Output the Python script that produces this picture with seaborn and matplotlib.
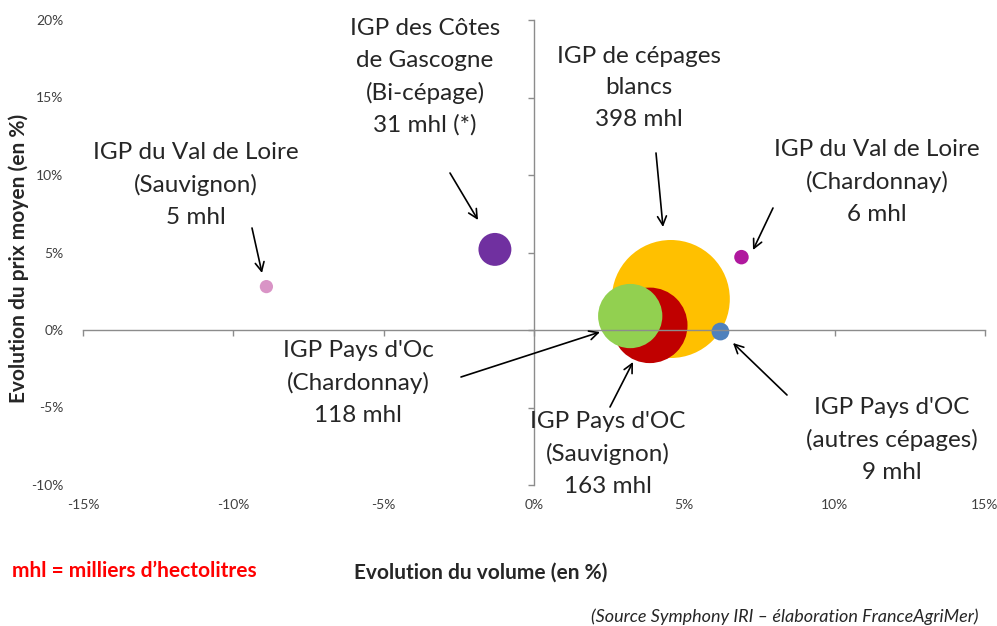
import pandas as pd
import seaborn as sns
import matplotlib.pyplot as plt
from matplotlib.ticker import FuncFormatter

# data (percent)
noms = ["Val de Loire Sauvignon", "Cotes de Gascogne", "Cepages blancs",
        "Pays d'Oc Sauvignon", "Pays d'Oc Chardonnay", "Pays d'Oc autres", "Val de Loire Chardonnay"]
volume = [-8.9, -1.3, 4.55, 3.85, 3.2, 6.2, 6.9]
prix = [2.8, 5.2, 2.0, 0.3, 0.9, -0.1, 4.7]
mhl = [5, 31, 398, 163, 118, 9, 6]
couleurs = ["#D994C6", "#7030A0", "#FFC000", "#C00000", "#92D050", "#4F81BD", "#B0189E"]

labels = ["IGP du Val de Loire\n(Sauvignon)\n5 mhl",
          "IGP des Côtes\nde Gascogne\n(Bi-cépage)\n31 mhl (*)",
          "IGP de cépages\nblancs\n398 mhl",
          "IGP Pays d'OC\n(Sauvignon)\n163 mhl",
          "IGP Pays d'Oc\n(Chardonnay)\n118 mhl",
          "IGP Pays d'OC\n(autres cépages)\n9 mhl",
          "IGP du Val de Loire\n(Chardonnay)\n6 mhl"]
# label centre and arrow (tail, tip) in pixels of the 997x626 picture
label_pos = [(196, 185), (425, 77), (639, 88), (608, 454), (358, 383), (892, 440), (877, 182)]
arrows = [((252, 228), (262, 273)), ((450, 173), (478, 220)), ((656, 153), (663, 227)),
          ((610, 407), (633, 362)), ((461, 377), (600, 332)), ((787, 395), (733, 343)),
          ((773, 208), (753, 250))]

df = pd.DataFrame({"nom": noms, "volume": volume, "prix": prix, "mhl": mhl})

sns.set_style("white")
plt.rcParams["font.family"] = ["Lato", "DejaVu Sans"]

W, H = 997, 626
fig = plt.figure(figsize=(W / 100, H / 100), dpi=100)
ax = fig.add_axes([83 / W, 1 - 485 / H, 902 / W, 465 / H])

k = 18.14  # points^2 per mhl (bubble area ~ volume)
sns.scatterplot(data=df, x="volume", y="prix", hue="nom", hue_order=noms, palette=couleurs,
                size="mhl", sizes=(k * 5, k * 398), size_norm=(5, 398),
                linewidth=0, alpha=1, legend=False, ax=ax)

ax.set_xlim(-15, 15)
ax.set_ylim(-10, 20)
ticks_x = [-15, -10, -5, 0, 5, 10, 15]
ticks_y = [-10, -5, 0, 5, 10, 15, 20]
ax.set_xticks(ticks_x)
ax.set_yticks(ticks_y)

# axes crossing at zero, ticks on them, no labels there
for s in ["top", "right"]:
    ax.spines[s].set_visible(False)
ax.spines["left"].set_position(("data", 0))
ax.spines["bottom"].set_position(("data", 0))
for s in ["left", "bottom"]:
    ax.spines[s].set_color("#8c8c8c")
    ax.spines[s].set_linewidth(1)
ax.tick_params(axis="both", direction="out", length=4, width=1, color="#8c8c8c",
               labelleft=False, labelbottom=False, left=True, bottom=True)

pct = FuncFormatter(lambda v, p: f"{v:.0f}%")
sx = ax.secondary_xaxis("bottom")
sx.set_xticks(ticks_x)
sx.xaxis.set_major_formatter(pct)
sx.spines["bottom"].set_visible(False)
sx.tick_params(length=0, pad=10, labelsize=10, labelcolor="#404040")
sy = ax.secondary_yaxis("left")
sy.set_yticks(ticks_y)
sy.yaxis.set_major_formatter(pct)
sy.spines["left"].set_visible(False)
sy.tick_params(length=0, pad=14, labelsize=10, labelcolor="#404040")

ax.set_xlabel("")
ax.set_ylabel("")
fig.text(19 / W, 1 - 258 / H, "Evolution du prix moyen (en %)", rotation=90,
         ha="center", va="center", fontsize=15, fontweight="bold")
fig.text(481 / W, 1 - 573 / H, "Evolution du volume (en %)",
         ha="center", va="center", fontsize=15, fontweight="bold")
fig.text(12 / W, 1 - 571 / H, "mhl = milliers d\u2019hectolitres",
         ha="left", va="center", fontsize=15, fontweight="bold", color="red")
fig.text(978 / W, 1 - 617 / H, "(Source Symphony IRI \u2013 élaboration FranceAgriMer)",
         ha="right", va="center", fontsize=13, style="italic")

def fpos(p):
    return (p[0] / W, 1 - p[1] / H)

for txt, pos in zip(labels, label_pos):
    ax.text(*fpos(pos), txt, transform=fig.transFigure, ha="center", va="center",
            fontsize=17.5, linespacing=1.6, multialignment="center")

for tail, tip in arrows:
    ax.annotate("", xy=fpos(tip), xycoords="figure fraction",
                xytext=fpos(tail), textcoords="figure fraction",
                arrowprops=dict(arrowstyle="->", color="black", lw=1.2,
                                mutation_scale=16, shrinkA=0, shrinkB=0))

fig.savefig("out.png", dpi=100)
